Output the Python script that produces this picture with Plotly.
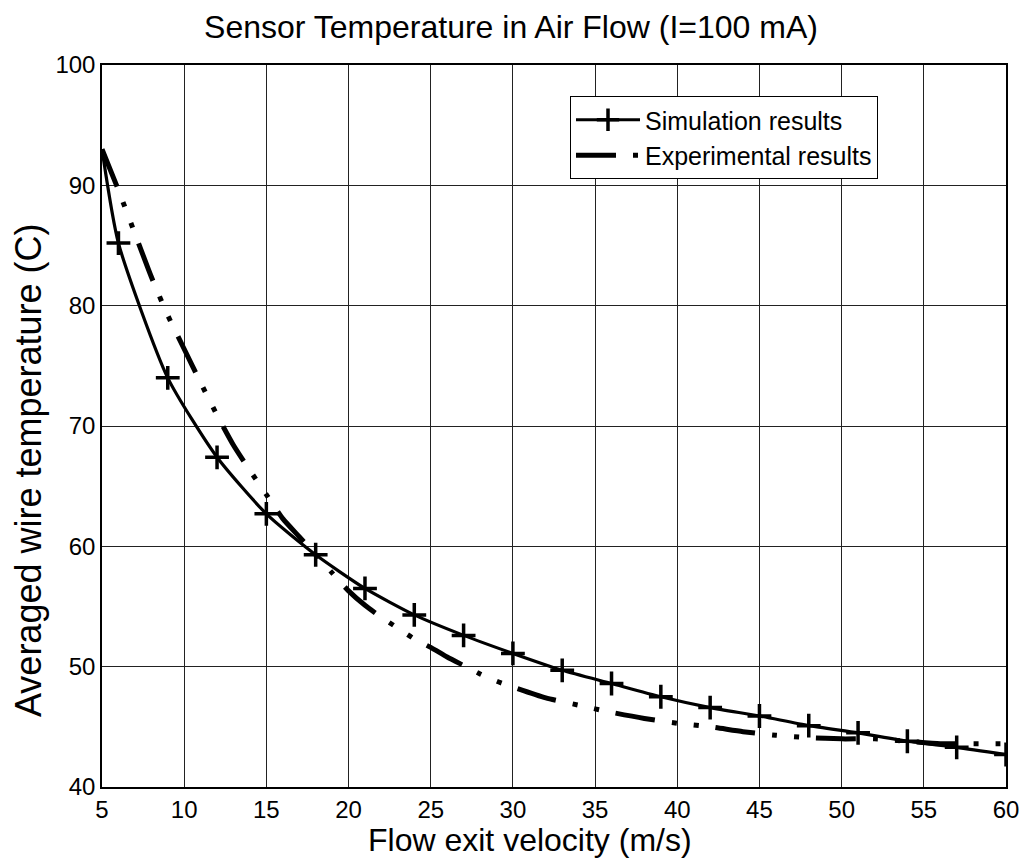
import plotly.graph_objects as go

# Flow exit velocity (m/s) and averaged wire temperature (C)
sim_velocity = [5, 6, 9, 12, 15, 18, 21, 24, 27, 30, 33, 36, 39, 42, 45, 48, 51, 54, 57, 60]
sim_temperature = [93.0, 85.2, 74.0, 67.4, 62.7, 59.3, 56.5, 54.3, 52.6, 51.1, 49.7, 48.6,
                   47.5, 46.6, 45.9, 45.1, 44.5, 43.8, 43.3, 42.7]

exp_velocity = [5, 6, 7, 8, 9, 10, 11, 12, 13, 14, 15, 16, 17, 18, 19, 20, 21, 22, 23, 24,
                25, 26, 27, 28, 29, 30, 32, 34, 36, 38, 40, 42, 44, 46, 48, 50, 52, 54, 56, 58, 60]
exp_temperature = [93.0, 89.6, 86.0, 82.4, 79.2, 76.4, 73.6, 70.9, 68.4, 66.3, 64.3, 62.3,
                   60.8, 59.3, 57.8, 56.3, 55.1, 54.1, 53.2, 52.3, 51.6, 50.8, 50.1, 49.4,
                   48.8, 48.3, 47.4, 46.8, 46.2, 45.7, 45.3, 45.0, 44.6, 44.3, 44.1, 44.0,
                   44.0, 43.8, 43.6, 43.6, 43.6]

x_ticks = [5, 10, 15, 20, 25, 30, 35, 40, 45, 50, 55, 60]
y_ticks = [40, 50, 60, 70, 80, 90, 100]

FONT = "Liberation Sans, Arial, Helvetica, sans-serif"
INK = "#000000"

# plot area in pixels: left 102, right 1006, top 65, bottom 787
fig = go.Figure()

fig.add_trace(go.Scatter(
    x=sim_velocity, y=sim_temperature,
    mode="lines+markers",
    name="Simulation results",
    line=dict(color=INK, width=3.2, shape="spline", smoothing=0.6),
    marker=dict(symbol="cross-thin", size=[0] + [17] * (len(sim_velocity) - 1),
                color=INK, opacity=1, line=dict(color=INK, width=3.5)),
))

fig.add_trace(go.Scatter(
    x=exp_velocity, y=exp_temperature,
    mode="lines",
    name="Experimental results",
    line=dict(color=INK, width=5, shape="spline", smoothing=0.6,
              dash="40px,17px,5px,17px,5px,17px"),
))

fig.update_layout(
    width=1024, height=864,
    margin=dict(l=102, r=18, t=65, b=77),
    paper_bgcolor="white", plot_bgcolor="white",
    font=dict(family=FONT, color=INK),
    title=dict(text="Sensor Temperature in Air Flow (I=100 mA)",
               x=(200 + 822) / 2 / 1024, xanchor="center", y=1 - 27 / 864, yanchor="middle",
               font=dict(family=FONT, size=32, color=INK)),
    showlegend=True,
    legend=dict(x=(570 - 102) / 904, y=(787 - 96) / 722, xanchor="left", yanchor="top",
                bgcolor="white", bordercolor=INK, borderwidth=1,
                font=dict(family=FONT, size=25, color=INK),
                itemwidth=64, tracegroupgap=0),
    xaxis=dict(range=[5, 60], tickvals=x_ticks, ticktext=[str(v) for v in x_ticks],
               showgrid=True, gridcolor="#222222", gridwidth=1,
               showline=True, linecolor=INK, linewidth=1.5, mirror=True,
               ticks="", zeroline=False, automargin=False,
               tickfont=dict(family=FONT, size=24, color=INK)),
    yaxis=dict(range=[40, 100], tickvals=y_ticks, ticktext=[str(v) for v in y_ticks],
               showgrid=True, gridcolor="#222222", gridwidth=1,
               showline=True, linecolor=INK, linewidth=1.5, mirror=True,
               ticks="", zeroline=False, automargin=False,
               tickfont=dict(family=FONT, size=24, color=INK)),
    annotations=[
        dict(text="Flow exit velocity (m/s)", xref="paper", yref="paper",
             x=((368 + 692) / 2 - 102) / 904, y=-(840 - 787) / 722,
             xanchor="center", yanchor="middle",
             showarrow=False, font=dict(family=FONT, size=32, color=INK)),
        dict(text="Averaged wire temperature (C)", xref="paper", yref="paper",
             x=(28 - 102) / 904, y=(787 - 470) / 722, xanchor="center", yanchor="middle",
             textangle=-90, showarrow=False, font=dict(family=FONT, size=36, color=INK)),
    ],
)

fig.write_html("out.html")
